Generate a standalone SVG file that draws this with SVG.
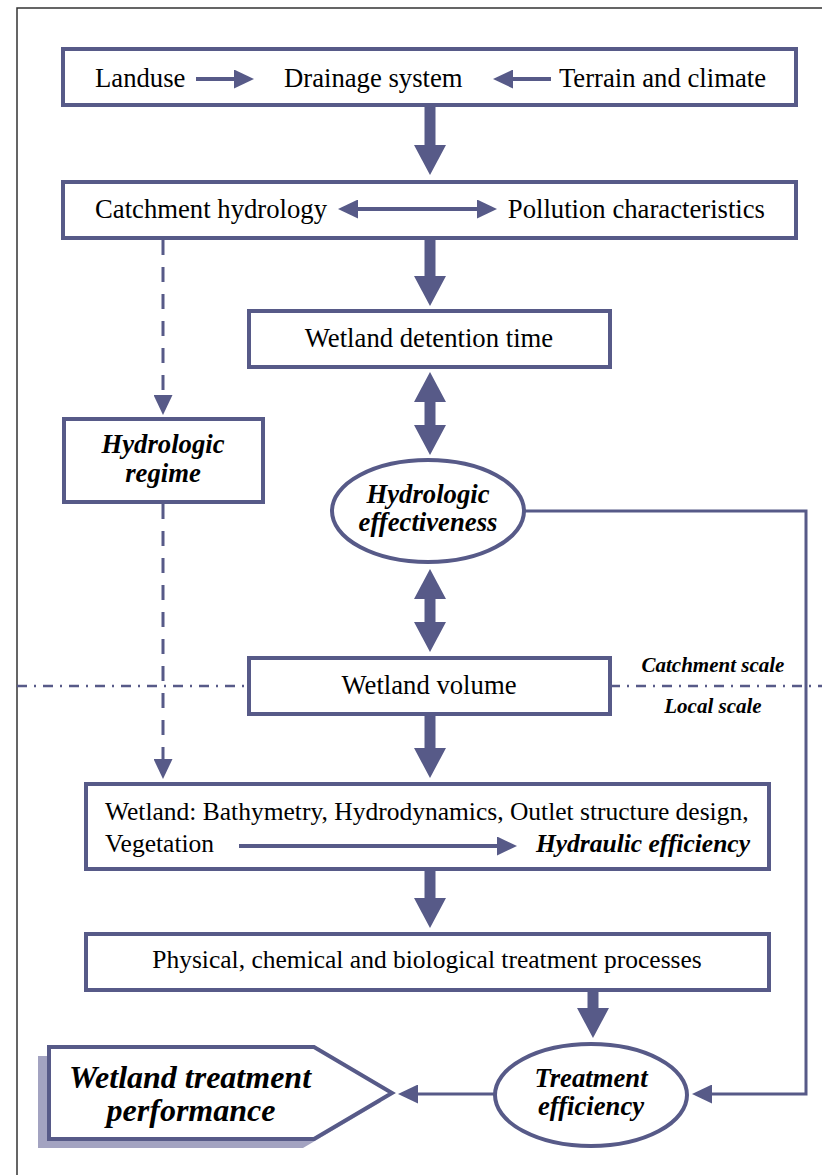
<svg xmlns="http://www.w3.org/2000/svg" width="822" height="1175" viewBox="0 0 822 1175">
<style>
.bx{fill:#fff;stroke:#575a88;stroke-width:4}
.t{font-family:"Liberation Serif","Times New Roman",serif;font-size:25.5px;fill:#000}
.tl{font-size:26.7px}
.bi{font-family:"Liberation Serif","Times New Roman",serif;font-size:26.7px;font-weight:bold;font-style:italic;fill:#000}
.big{stroke:#575a88;stroke-width:11;fill:none}
.thin{stroke:#575a88;stroke-width:4;fill:none}
.dash{stroke:#575a88;stroke-width:3;fill:none;stroke-dasharray:15 12}
</style>
<defs>
<marker id="hb" markerUnits="userSpaceOnUse" markerWidth="30" markerHeight="32" viewBox="0 0 30 32" refX="0" refY="16" orient="auto-start-reverse"><path d="M0,0 L30,16 L0,32 z" fill="#575a88"/></marker>
<marker id="hs" markerUnits="userSpaceOnUse" markerWidth="20" markerHeight="19" viewBox="0 0 20 19" refX="0" refY="9.5" orient="auto-start-reverse"><path d="M0,0 L20,9.5 L0,19 z" fill="#575a88"/></marker>
</defs>
<rect width="822" height="1175" fill="#fff"/>
<path d="M17,1175 V8 H822" fill="none" stroke="#333" stroke-width="1.5"/>
<g id="scale-line">
<path d="M17,686 H249 M610,686 H822" stroke="#575a88" stroke-width="2.5" fill="none" stroke-dasharray="10 7 2 7"/>
<text class="bi" x="713" y="672" text-anchor="middle" style="font-size:21px">Catchment scale</text>
<text class="bi" x="713" y="713" text-anchor="middle" style="font-size:21px">Local scale</text>
</g>
<g id="connectors">
<line class="big" x1="430" y1="106" x2="430" y2="145" marker-end="url(#hb)"/>
<line class="big" x1="430" y1="238" x2="430" y2="276" marker-end="url(#hb)"/>
<line class="big" x1="430" y1="402" x2="430" y2="425" marker-start="url(#hb)" marker-end="url(#hb)"/>
<line class="big" x1="430" y1="599" x2="430" y2="622" marker-start="url(#hb)" marker-end="url(#hb)"/>
<line class="big" x1="430" y1="714" x2="430" y2="748" marker-end="url(#hb)"/>
<line class="big" x1="430" y1="870" x2="430" y2="898" marker-end="url(#hb)"/>
<line class="big" x1="593" y1="990" x2="593" y2="1008" marker-end="url(#hb)"/>
<line class="dash" x1="163" y1="240" x2="163" y2="395" marker-end="url(#hs)"/>
<line class="dash" x1="163" y1="504" x2="163" y2="759" marker-end="url(#hs)"/>
<polyline points="524,511 806,511 806,1094 712,1094" fill="none" stroke="#575a88" stroke-width="3" marker-end="url(#hs)"/>
<line x1="494" y1="1094" x2="418" y2="1094" stroke="#575a88" stroke-width="3" marker-end="url(#hs)"/>
</g>
<g id="n1">
<rect class="bx" x="63" y="49" width="733" height="56"/>
<text class="t tl" x="95" y="87">Landuse</text>
<text class="t tl" x="284" y="87">Drainage system</text>
<text class="t tl" x="766" y="87" text-anchor="end">Terrain and climate</text>
<line class="thin" x1="196" y1="79" x2="234" y2="79" marker-end="url(#hs)"/>
<line class="thin" x1="551" y1="79" x2="513" y2="79" marker-end="url(#hs)"/>
</g>
<g id="n2">
<rect class="bx" x="63" y="182" width="733" height="56"/>
<text class="t tl" x="95" y="218">Catchment hydrology</text>
<text class="t tl" x="765" y="218" text-anchor="end">Pollution characteristics</text>
<line class="thin" x1="358" y1="209" x2="477" y2="209" marker-start="url(#hs)" marker-end="url(#hs)"/>
</g>
<g id="n3">
<rect class="bx" x="249" y="311" width="361" height="56"/>
<text class="t tl" x="429" y="347" text-anchor="middle">Wetland detention time</text>
</g>
<g id="n4">
<rect class="bx" x="64" y="419" width="199" height="83"/>
<text class="bi" x="163" y="453" text-anchor="middle">Hydrologic</text>
<text class="bi" x="163" y="482" text-anchor="middle">regime</text>
</g>
<g id="n5">
<ellipse class="bx" cx="428" cy="511" rx="96" ry="51"/>
<text class="bi" x="428" y="503" text-anchor="middle">Hydrologic</text>
<text class="bi" x="428" y="531" text-anchor="middle">effectiveness</text>
</g>
<g id="n6">
<rect class="bx" x="249" y="658" width="361" height="56"/>
<text class="t tl" x="429" y="694" text-anchor="middle">Wetland volume</text>
</g>
<g id="n7">
<rect class="bx" x="86" y="784" width="683" height="85"/>
<text class="t" x="105" y="820">Wetland: Bathymetry, Hydrodynamics, Outlet structure design,</text>
<text class="t" x="105" y="852">Vegetation</text>
<line class="thin" x1="239" y1="846" x2="497" y2="846" marker-end="url(#hs)"/>
<text class="bi" x="750" y="852" text-anchor="end" style="font-size:25.5px">Hydraulic efficiency</text>
</g>
<g id="n8">
<rect class="bx" x="86" y="934" width="683" height="56"/>
<text class="t" x="427" y="968" text-anchor="middle">Physical, chemical and biological treatment processes</text>
</g>
<g id="n9">
<ellipse class="bx" cx="591" cy="1095" rx="96" ry="51"/>
<text class="bi" x="591" y="1087" text-anchor="middle">Treatment</text>
<text class="bi" x="591" y="1115" text-anchor="middle">efficiency</text>
</g>
<g id="n10">
<polygon points="38,1056 303,1056 381,1102 303,1148 38,1148" fill="#a3a3c1"/>
<polygon class="bx" points="49,1047 314,1047 392,1093 314,1139 49,1139"/>
<text class="bi" x="190" y="1088" text-anchor="middle" style="font-size:32px">Wetland treatment</text>
<text class="bi" x="191" y="1121" text-anchor="middle" style="font-size:32px">performance</text>
</g>
</svg>
